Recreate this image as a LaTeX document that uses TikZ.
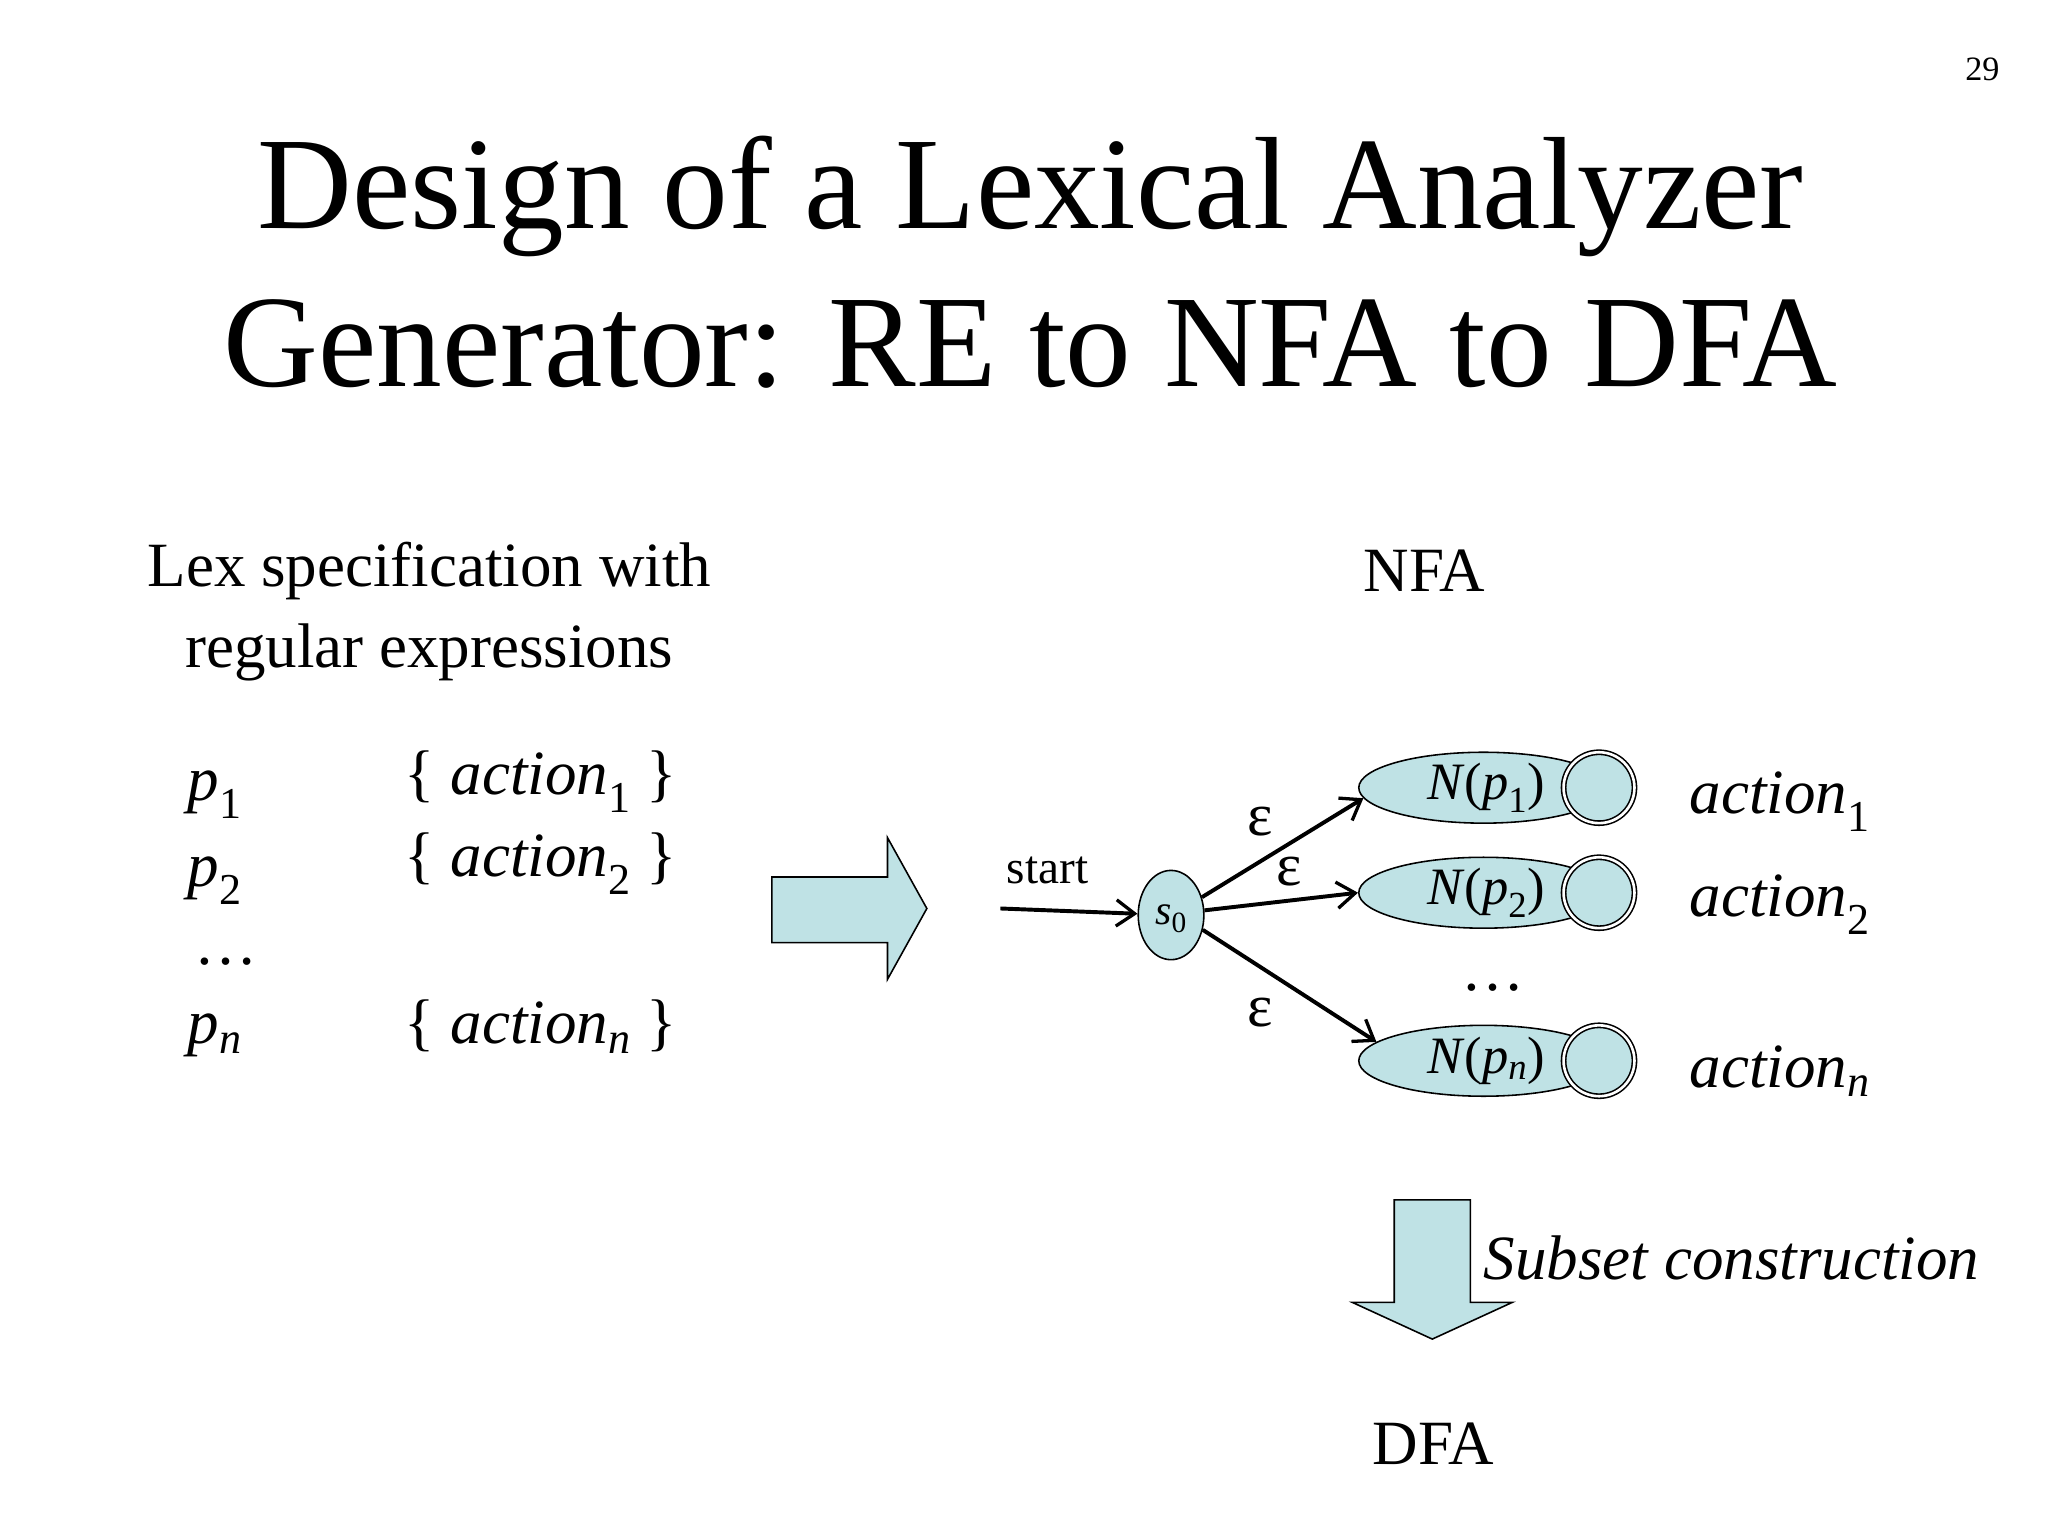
\documentclass[tikz,border=0pt]{standalone}
\usepackage{fontspec}
\setmainfont{Liberation Serif}
\usetikzlibrary{shapes.geometric,arrows.meta}
\definecolor{lb}{HTML}{BFE2E5}
\newcommand{\fs}[1]{\fontsize{#1}{#1}\selectfont}
\newcommand{\mysb}[1]{\textsubscript{\upshape #1}}
\begin{document}
\begin{tikzpicture}[x=1pt,y=-1pt,
  txt/.style={inner sep=0pt,font=\fs{48}},
  st/.style={draw=black,fill=lb,line width=1.2pt,ellipse,inner sep=0pt},
  arr/.style={-{Straight Barb[length=14pt,width=20pt,line width=2.5pt]},line width=3pt},
  bigarrow/.style={draw=black,fill=lb,line width=1.2pt}]
\useasboundingbox (0,0) rectangle (1560,1170);
\node[txt,font=\fs{26}] (pg) at (1510,53) {29};
\node[txt,font=\fs{100}] (t1) at (785,150) {Design of a Lexical Analyzer};
\node[txt,font=\fs{100}] (t2) at (785,262) {Generator: RE to NFA to DFA};
\node[txt] (l1) at (327,435) {Lex specification with};
\node[txt] (l2) at (327,497) {regular expressions};
\node[txt,anchor=base west] (p1) at (143,610) {\textit{p}\mysb{1}};
\node[txt,anchor=base west] (p2) at (143,675) {\textit{p}\mysb{2}};
\node[txt,anchor=base west] (pd) at (148,735) {\dots};
\node[txt,anchor=base west] (pn) at (143,795) {\textit{p}\textsubscript{\textit{n}}};
\node[txt,anchor=base west] (a1) at (308,605) {\{ \textit{action}\mysb{1} \}};
\node[txt,anchor=base west] (a2) at (308,668) {\{ \textit{action}\mysb{2} \}};
\node[txt,anchor=base west] (an) at (308,795) {\{ \textit{action}\textsubscript{\textit{n}} \}};
\draw[bigarrow] (588,668) -- (676,668) -- (676,638) -- (706,692) -- (676,746) -- (676,718) -- (588,718) -- cycle;
\node[txt] (nfa) at (1085,435) {NFA};
\node[txt,font=\fs{36}] (start) at (798,663) {start};
\node[st,minimum width=50pt,minimum height=68pt] (s0) at (892,697) {};
\node[txt,font=\fs{32}] at (892,700) {\textit{s}\mysb{0}};
\coordinate (sc) at (762,692);
\draw[arr] (sc) -- (s0);
\foreach \i/\y/\lab in {1/600/1,2/680/2,n/808/\textit{n}}{
  \node[st,minimum width=190pt,minimum height=54pt] (N\i) at (1130,\y) {};
  \node[txt,font=\fs{40}] at (1132,\y) {\textit{N}(\textit{p}\textsubscript{\upshape\lab})};
  \node[draw,fill=lb,circle,line width=1.2pt,minimum size=54pt,inner sep=0pt,double,double distance=2pt] (F\i) at (1218,\y) {};
}
\node[txt,anchor=base west] (b1) at (1287,620) {\textit{action}\mysb{1}};
\node[txt,anchor=base west] (b2) at (1287,698) {\textit{action}\mysb{2}};
\node[txt,anchor=base west] (bn) at (1287,828) {\textit{action}\textsubscript{\textit{n}}};
\node[txt] (nd) at (1137,752) {\dots};
\draw[arr] (s0.30) -- (N1.185);
\draw[arr] (s0.8) -- (N2.180);
\draw[arr] (s0.-25) -- (Nn.170);
\node[txt,font=\fs{46}] at (960,626) {ε};
\node[txt,font=\fs{46}] at (982,664) {ε};
\node[txt,font=\fs{46}] at (960,771) {ε};
\draw[bigarrow] (1062,914) -- (1120,914) -- (1120,992) -- (1152,992) -- (1091,1020) -- (1030,992) -- (1062,992) -- cycle;
\node[txt,anchor=west] (sub) at (1130,958) {\textit{Subset construction}};
\node[txt] (dfa) at (1092,1100) {DFA};
\end{tikzpicture}
\end{document}
